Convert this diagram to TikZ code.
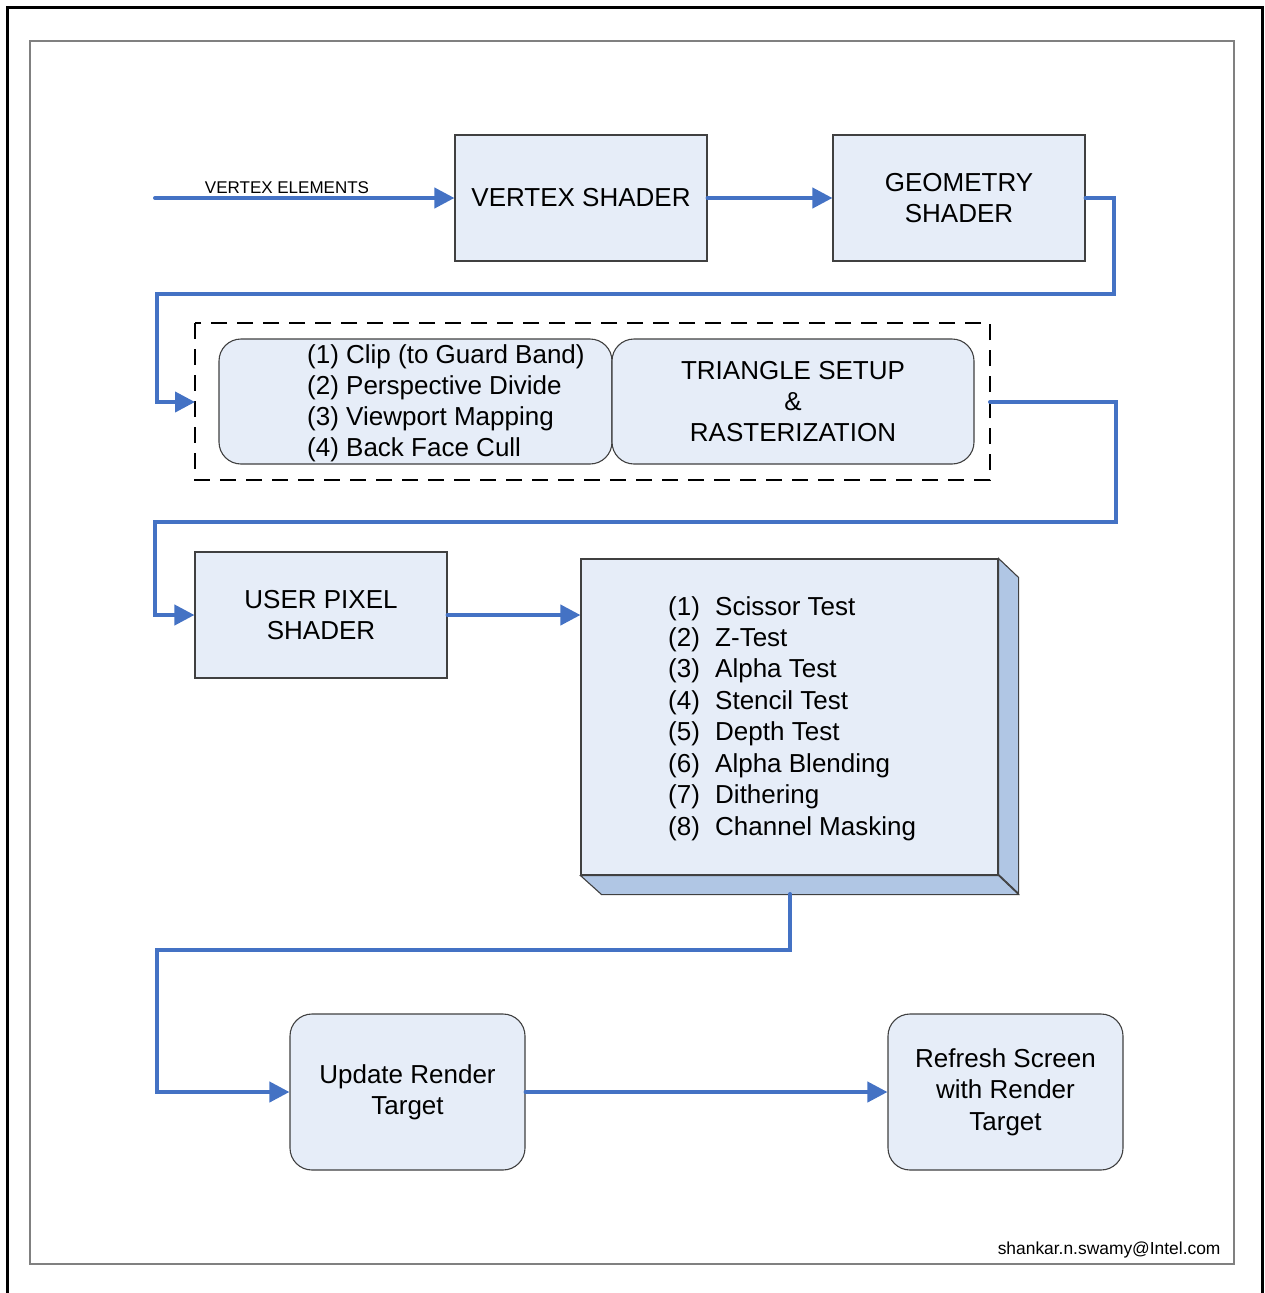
\documentclass[tikz,border=0pt]{standalone}
\usepackage{fontspec}
\setmainfont{Liberation Sans}
\usetikzlibrary{arrows.meta}
\definecolor{flowblue}{HTML}{4472C4}
\definecolor{boxfill}{HTML}{E6EDF8}
\definecolor{sidefill}{HTML}{B0C6E4}
\definecolor{boxline}{HTML}{404040}
\tikzset{
  flow/.style={draw=flowblue, line width=4pt, line cap=round, line join=miter},
  tipped/.style={flow, -{Triangle[length=20pt,width=20pt]}},
  stagebox/.style={draw=boxline, line width=1.1pt, fill=boxfill, inner sep=0pt,
    align=center, font=\fontsize{26}{31.4}\selectfont},
  roundbox/.style={stagebox, rounded corners=22pt},
  item/.style={anchor=base west, inner sep=0pt, font=\fontsize{26}{31.4}\selectfont},
}
\begin{document}
\begin{tikzpicture}[x=1pt, y=-1pt]
\useasboundingbox (0,0) rectangle (1264,1293);
% frames
\draw[line width=3pt] (7,1300) -- (7,7) -- (1262,7) -- (1262,1300);
\draw[gray, line width=1.4pt] (30,41) rectangle (1234,1264);

% top row
\coordinate (vin) at (155,198);
\node[font=\fontsize{17}{20}\selectfont, anchor=base] (vlabel) at (287,193) {VERTEX ELEMENTS};
\node[stagebox, minimum width=252pt, minimum height=126pt] (vs) at (581,198) {VERTEX SHADER};
\node[stagebox, minimum width=252pt, minimum height=126pt] (gs) at (959,198) {GEOMETRY\\SHADER};

% clip / setup group
\draw[line width=2.4pt, dash pattern=on 16pt off 10pt] (195,323) rectangle (990,480);
\node[roundbox, minimum width=393pt, minimum height=125pt] (clip) at (415.5,401.5) {};
\node[roundbox, minimum width=362pt, minimum height=125pt] (tri) at (793,401.5)
  {TRIANGLE SETUP\\\&\\RASTERIZATION};
\foreach \t [count=\i] in {(1) Clip (to Guard Band),(2) Perspective Divide,(3) Viewport Mapping,(4) Back Face Cull}
  \node[item] (clip\i) at (307,{354+9+(\i-1)*31.3}) {\t};
\coordinate (grpin) at (195,402);
\coordinate (grpout) at (990,402);

% pixel stage
\node[stagebox, minimum width=252pt, minimum height=126pt] (ups) at (321,615) {USER PIXEL\\SHADER};

% per-sample tests block with bevel
\node[stagebox, minimum width=417pt, minimum height=316pt] (tests) at (789.5,717) {};
\draw[boxline, line width=1.1pt, fill=sidefill]
  (tests.north east) -- ++(20,19) -- ++(0,316) -- ++(-20,-19) -- cycle;
\draw[boxline, line width=1.1pt, fill=sidefill]
  (tests.south west) -- (tests.south east) -- ++(20,19) -- ++(-417,0) -- cycle;
\foreach \n/\t [count=\i] in {(1)/Scissor Test,(2)/Z-Test,(3)/Alpha Test,(4)/Stencil Test,(5)/Depth Test,(6)/Alpha Blending,(7)/Dithering,(8)/Channel Masking}{
  \node[item] (num\i) at (668,{606+9+(\i-1)*31.43}) {\n};
  \node[item] (test\i) at (715,{606+9+(\i-1)*31.43}) {\t};
}
\coordinate (testsout) at (790,894);

% output stages
\node[roundbox, minimum width=235pt, minimum height=156pt] (urt) at (407.5,1092) {Update Render\\Target};
\node[roundbox, minimum width=235pt, minimum height=156pt] (rs) at (1005.5,1092) {Refresh Screen\\with Render\\Target};

\node[font=\fontsize{17.4}{20}\selectfont, anchor=base east] (mail) at (1224,1254) {shankar.n.swamy@Intel.com};

% connectors
\draw[tipped] (vin) -- (vs.west);
\draw[tipped] (vs.east) -- (gs.west);
\draw[tipped] (gs.east) -- (1114,198) -- (1114,294) -- (157,294) -- (157,402) -- (grpin);
\draw[tipped] (grpout) -- (1116,402) -- (1116,522) -- (155,522) -- (155,615) -- (ups.west);
\draw[tipped] (ups.east) -- (ups.east -| tests.west);
\draw[tipped] (testsout) -- (790,950) -- (157,950) -- (157,1092) -- (urt.west);
\draw[tipped] (urt.east) -- (rs.west);
\end{tikzpicture}
\end{document}
